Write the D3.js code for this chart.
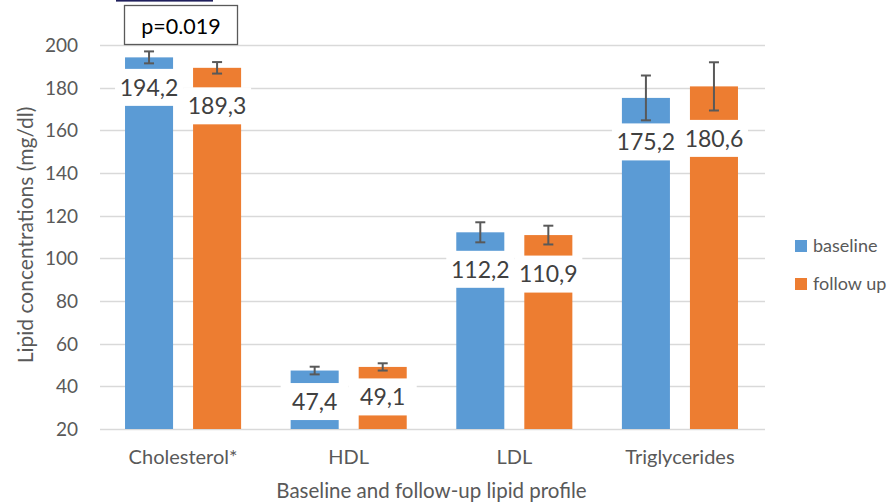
<!DOCTYPE html>
<html><head><meta charset="utf-8">
<script src="https://cdn.jsdelivr.net/npm/d3@7"></script>
<style>
html,body{margin:0;padding:0;background:#fff;}
svg{display:block;font-family:Lato,"Open Sans",sans-serif;}
</style></head>
<body>
<svg id="chart" width="890" height="502"></svg>
<script>
// ---- data ----
const categories = ["Cholesterol*", "HDL", "LDL", "Triglycerides"];
const seriesNames = ["baseline", "follow up"];
const baselineValues = [194.2, 47.4, 112.2, 175.2];
const followUpValues = [189.3, 49.1, 110.9, 180.6];
const baselineErrors = [2.8, 1.8, 4.7, 10.5];
const followUpErrors = [2.7, 1.7, 4.4, 11.3];
const yTicks = [20, 40, 60, 80, 100, 120, 140, 160, 180, 200];
const annotationText = "p=0.019";
// label vertical nudges (px below bar top), manual placement as in the original
const labelNudge = [[30, 38], [31, 30], [37, 39], [44, 52]];

const colors = {"baseline": "#5B9BD5", "follow up": "#ED7D31"};
const rows = categories.map((c, i) => ({
  cat: c, i,
  vals: [
    {s: "baseline", v: baselineValues[i], e: baselineErrors[i], nudge: labelNudge[i][0]},
    {s: "follow up", v: followUpValues[i], e: followUpErrors[i], nudge: labelNudge[i][1]}
  ]
}));

const svg = d3.select("#chart");
const pL = 100.25, pR = 762.75, pT = 45, pB = 429;

const y = d3.scaleLinear().domain([20, 200]).range([pB, pT]);
const x0 = d3.scaleBand().domain(categories).range([pL, pR]).padding(0);
const bw = x0.bandwidth();
const x1 = d3.scaleBand().domain(seriesNames).range([bw * 0.1496, bw * 0.8504]).paddingInner(0.294).paddingOuter(0);

// gridlines
svg.append("g").selectAll("line").data(yTicks).join("line")
  .attr("x1", 100).attr("x2", 765)
  .attr("y1", d => Math.round(y(d)) + 0.5).attr("y2", d => Math.round(y(d)) + 0.5)
  .attr("stroke", "#d9d9d9").attr("stroke-width", 1.3);

// y axis labels
const yAxis = d3.axisLeft(y).tickValues(yTicks).tickSize(0).tickPadding(0);
const yg = svg.append("g").attr("transform", "translate(78,0)").call(yAxis);
yg.select(".domain").remove();
yg.selectAll("text").attr("font-size", 19).attr("fill", "#595959")
  .attr("font-family", "Lato, sans-serif").attr("dy", "0.35em");

// x axis labels
const xAxis = d3.axisBottom(x0).tickSize(0).tickPadding(0);
const xg = svg.append("g").attr("transform", "translate(0,450)").call(xAxis);
xg.select(".domain").remove();
xg.selectAll(".tick").attr("transform", d => `translate(${x0(d) + x1("baseline") + (x1("follow up") + x1.bandwidth() - x1("baseline")) / 2},0)`);
xg.selectAll("text").attr("font-size", 20).attr("fill", "#595959")
  .attr("font-family", "Lato, sans-serif").attr("dy", "0.71em");

// bars
const groups = svg.append("g").selectAll("g").data(rows).join("g")
  .attr("transform", d => `translate(${x0(d.cat)},0)`);

groups.selectAll("rect.bar").data(d => d.vals).join("rect").attr("class", "bar")
  .attr("x", d => x1(d.s)).attr("width", x1.bandwidth())
  .attr("y", d => y(d.v)).attr("height", d => y(20) - y(d.v))
  .attr("fill", d => colors[d.s]);

// data labels (white boxes)
const lab = groups.selectAll("g.lab").data(d => d.vals).join("g").attr("class", "lab")
  .attr("transform", d => `translate(${x1(d.s) + x1.bandwidth() / 2},${y(d.v) + d.nudge})`);
lab.append("rect").attr("x", -34).attr("y", -18.5).attr("width", 68).attr("height", 37).attr("fill", "#fff");
lab.append("text").attr("text-anchor", "middle").attr("dy", "0.36em")
  .attr("font-size", 23).attr("fill", "#404040")
  .text(d => d3.format(".1f")(d.v).replace(".", ","));

// error bars
const err = groups.selectAll("g.err").data(d => d.vals).join("g").attr("class", "err")
  .attr("transform", d => `translate(${x1(d.s) + x1.bandwidth() / 2},0)`)
  .attr("stroke", "#595959").attr("stroke-width", 2);
err.append("line").attr("y1", d => y(d.v + d.e)).attr("y2", d => y(d.v - d.e));
err.append("line").attr("x1", -5).attr("x2", 5).attr("y1", d => y(d.v + d.e)).attr("y2", d => y(d.v + d.e));
err.append("line").attr("x1", -5).attr("x2", 5).attr("y1", d => y(d.v - d.e)).attr("y2", d => y(d.v - d.e));

// annotation box
svg.append("rect").attr("x", 116).attr("y", 0).attr("width", 97).attr("height", 1.6).attr("fill", "#1f1f5c");
svg.append("rect").attr("x", 124.5).attr("y", 5.5).attr("width", 113).attr("height", 39)
  .attr("fill", "#fff").attr("stroke", "#595959").attr("stroke-width", 1.3);
svg.append("text").attr("x", 181).attr("y", 26).attr("dy", "0.36em").attr("text-anchor", "middle")
  .attr("font-size", 21.5).attr("fill", "#000").text(annotationText);

// axis titles
svg.append("text").attr("transform", `translate(33,${(pT + pB) / 2 - 2}) rotate(-90)`)
  .attr("text-anchor", "middle").attr("font-size", 21).attr("fill", "#595959")
  .text("Lipid concentrations (mg/dl)");
svg.append("text").attr("x", (pL + pR) / 2).attr("y", 498)
  .attr("text-anchor", "middle").attr("font-size", 20.5).attr("fill", "#595959")
  .text("Baseline and follow-up lipid profile");

// legend
const leg = svg.append("g").selectAll("g").data(seriesNames).join("g")
  .attr("transform", (d, i) => `translate(795,${246 + i * 38})`);
leg.append("rect").attr("x", 0).attr("y", -6).attr("width", 12).attr("height", 12).attr("fill", d => colors[d]);
leg.append("text").attr("x", 18).attr("dy", "0.36em").attr("font-size", 18).attr("fill", "#595959").text(d => d);
</script>
</body></html>
